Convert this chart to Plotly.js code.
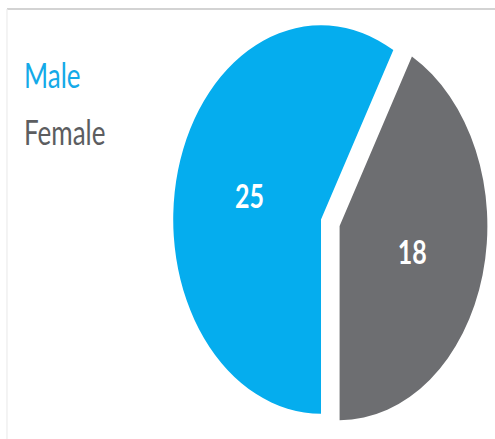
<!DOCTYPE html>
<html>
<head>
<meta charset="utf-8">
<script src="https://cdn.plot.ly/plotly-3.0.1.min.js"></script>
<style>
  html, body { margin: 0; padding: 0; background: #ffffff; overflow: hidden; }
  #wrap { width: 495px; height: 439px; position: relative; overflow: hidden; }
  #chart { width: 495px; height: 334px; transform-origin: 0 0; transform: scaleY(1.3144); }
</style>
</head>
<body>
<div id="wrap"><div id="chart"></div></div>
<script>
const labels = ["Male", "Female"];
const values = [25, 18];
const sliceColors = ["#05adee", "#6d6e71"];
const legendColors = ["#14aae8", "#5c5d60"];
const pulls = [0, 0.13];

const pie = {
  type: "pie",
  labels: labels,
  values: values,
  sort: false,
  direction: "clockwise",
  rotation: 180,
  pull: pulls,
  marker: { colors: sliceColors, line: { width: 0 } },
  textinfo: "value",
  textposition: "inside",
  insidetextorientation: "horizontal",
  textfont: { family: "Lato, 'Open Sans', sans-serif", size: 25, color: "#ffffff", weight: "bold" },
  domain: { x: [0.308, 0.989], y: [0, 1] },
  hoverinfo: "label+value",
  showlegend: false
};

const legendY = [0.829, 0.70];
const annotations = labels.map((lab, i) => ({
  text: lab,
  xref: "paper", yref: "paper",
  x: 22 / 495, y: legendY[i],
  xanchor: "left", yanchor: "middle",
  showarrow: false,
  font: { family: "Lato, 'Open Sans', sans-serif", size: 26, color: legendColors[i] }
}));

const layout = {
  width: 495,
  height: 334,
  margin: { l: 0, r: 0, t: 0, b: 0 },
  paper_bgcolor: "#ffffff",
  plot_bgcolor: "#ffffff",
  showlegend: false,
  annotations: annotations,
  shapes: [
    { type: "line", xref: "paper", yref: "paper", x0: 7 / 495, x1: 1, y0: 1 - 9 / 439, y1: 1 - 9 / 439,
      line: { color: "#c4c4c4", width: 1.2 } },
    { type: "line", xref: "paper", yref: "paper", x0: 7 / 495, x1: 7 / 495, y0: 0, y1: 1 - 9 / 439,
      line: { color: "#ececec", width: 1.2 } }
  ]
};

Plotly.newPlot("chart", [pie], layout, { displayModeBar: false, staticPlot: true });
</script>
</body>
</html>
